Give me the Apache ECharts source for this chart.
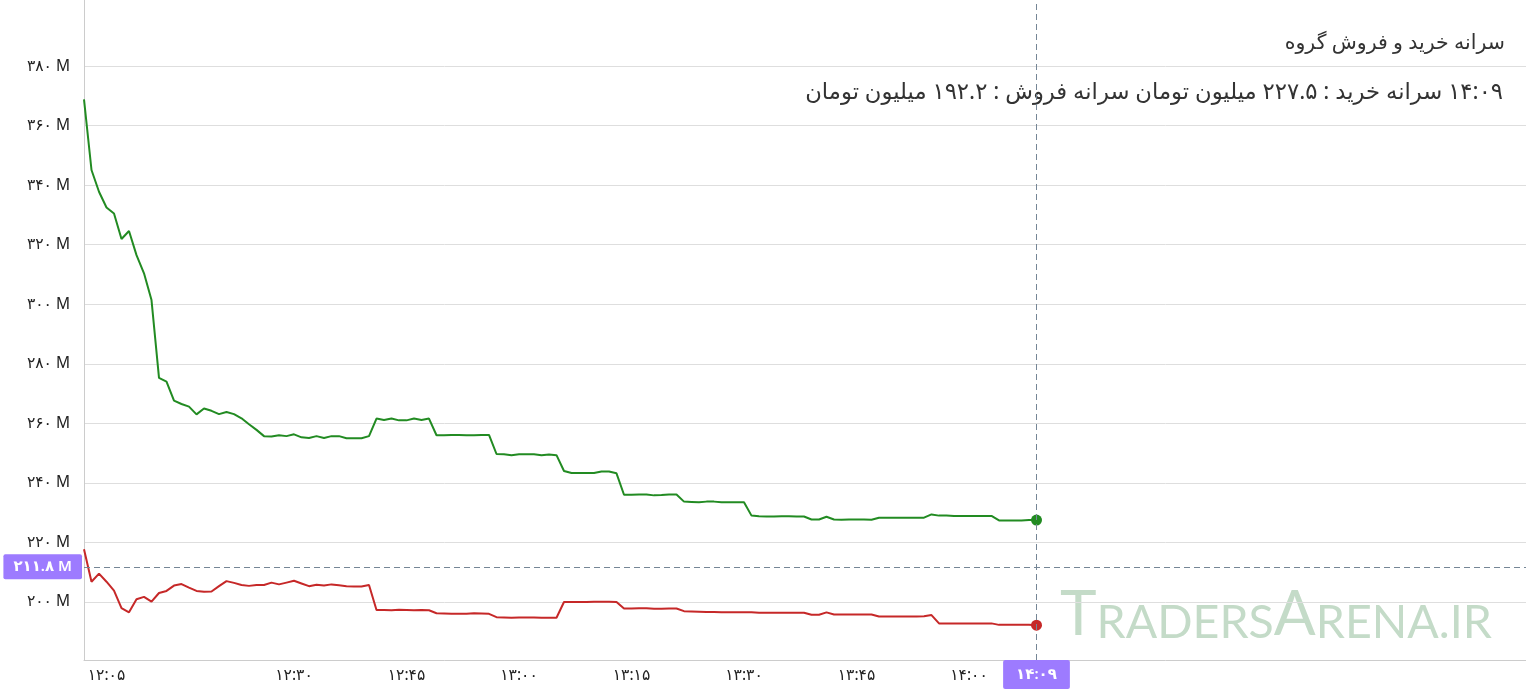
<!DOCTYPE html>
<html><head><meta charset="utf-8">
<script src="https://cdn.jsdelivr.net/npm/echarts@6/dist/echarts.min.js"></script>
<style>html,body{margin:0;padding:0;background:#fff}#c{width:1526px;height:693px}</style>
</head><body><div id="c"></div><script>
// minutes after 12:00
const minutes = [2,3,4,5,6,7,8,9,10,11,12,13,14,15,16,17,18,19,20,21,22,23,24,25,26,27,28,29,30,31,32,33,34,35,36,37,38,39,40,41,42,43,44,45,46,47,48,49,50,51,52,53,54,55,56,57,58,59,60,61,62,63,64,65,66,67,68,69,70,71,72,73,74,75,76,77,78,79,80,81,82,83,84,85,86,87,88,89,90,91,92,93,94,95,96,97,98,99,100,101,102,103,104,105,106,107,108,109,110,111,112,113,114,115,116,117,118,119,120,121,122,123,124,125,126,127,128,129];
const buyPerCapita = [368.8,345.1,337.8,332.5,330.5,321.9,324.6,316.5,310.4,301.4,275.3,274.0,267.6,266.5,265.6,263.0,265.0,264.2,263.1,263.8,263.1,261.7,259.7,257.8,255.7,255.6,256.0,255.7,256.3,255.3,255.1,255.7,255.1,255.7,255.7,255.0,255.0,255.0,255.7,261.6,261.1,261.6,261.0,261.0,261.6,261.1,261.6,256.0,256.0,256.1,256.1,256.0,256.0,256.1,256.1,249.7,249.6,249.3,249.6,249.6,249.6,249.3,249.5,249.3,244.0,243.3,243.3,243.3,243.3,243.8,243.8,243.2,236.0,236.0,236.1,236.1,235.8,235.9,236.1,236.1,233.7,233.6,233.5,233.7,233.7,233.5,233.5,233.5,233.5,229.0,228.8,228.7,228.7,228.8,228.8,228.7,228.7,227.7,227.7,228.6,227.7,227.6,227.7,227.7,227.7,227.6,228.3,228.3,228.3,228.3,228.3,228.3,228.3,229.4,229.0,229.0,228.9,228.9,228.9,228.9,228.9,228.9,227.4,227.4,227.4,227.4,227.5,227.5];
const sellPerCapita = [217.7,206.8,209.5,206.8,203.8,197.9,196.5,200.9,201.7,200.1,203.0,203.7,205.5,206.0,204.8,203.7,203.4,203.5,205.3,207.0,206.4,205.7,205.4,205.7,205.7,206.5,205.9,206.5,207.1,206.2,205.3,205.8,205.5,205.9,205.6,205.3,205.2,205.2,205.7,197.3,197.3,197.2,197.4,197.3,197.2,197.3,197.2,196.2,196.1,196.0,196.0,196.0,196.2,196.1,196.0,194.9,194.8,194.7,194.8,194.8,194.8,194.7,194.7,194.7,200.0,200.0,200.0,200.0,200.1,200.1,200.1,200.0,197.8,197.8,197.9,197.9,197.7,197.7,197.8,197.8,196.9,196.8,196.7,196.6,196.6,196.5,196.5,196.5,196.5,196.5,196.4,196.4,196.4,196.4,196.4,196.4,196.4,195.7,195.7,196.5,195.8,195.8,195.8,195.8,195.8,195.8,195.1,195.1,195.1,195.1,195.1,195.1,195.2,195.6,192.8,192.8,192.8,192.8,192.8,192.8,192.8,192.8,192.3,192.3,192.3,192.3,192.3,192.2];
const yTicks = [200,220,240,260,280,300,320,340,360,380];
const xTicks = [5,30,45,60,75,90,105,120];
const cursorMinute = 129;
const cursorValue = 211.8;
const titleText = 'سرانه خرید و فروش گروه';
const infoText = '۱۴:۰۹ سرانه خرید : ۲۲۷.۵ میلیون تومان سرانه فروش : ۱۹۲.۲ میلیون تومان';

const FONT = '"Noto Sans", "DejaVu Sans", sans-serif';
const fa = s => String(s).replace(/\d/g, d => '۰۱۲۳۴۵۶۷۸۹'[d]);
const rtl = s => '\u202B' + s + '\u202C';
const timeLabel = m => { m = Math.round(m); const h = 12 + Math.floor(m / 60), mm = m % 60; return fa(h + ':' + (mm < 10 ? '0' : '') + mm); };
const lastI = minutes.length - 1;

const chart = echarts.init(document.getElementById('c'), null, {renderer: 'canvas'});
chart.setOption({
  animation: false,
  backgroundColor: '#fff',
  textStyle: {fontFamily: FONT},
  axisPointer: {triggerOn: 'none'},
  title: [
    {text: rtl(titleText), right: 16, top: 28, textStyle: {fontSize: 20.5, fontWeight: 'normal', color: '#333', fontFamily: FONT}},
    {text: rtl(infoText), right: 18, top: 76, textStyle: {fontSize: 22.7, fontWeight: 'normal', color: '#333', fontFamily: FONT}}
  ],
  grid: {left: 84, right: 0, top: 0, bottom: 33},
  xAxis: {
    type: 'value', min: 2, max: 2 + 1442 / 7.5,
    axisLine: {show: true, lineStyle: {color: '#cccccc'}},
    axisTick: {show: false, customValues: xTicks},
    splitLine: {show: false},
    axisLabel: {customValues: xTicks, formatter: v => timeLabel(v), color: '#222', fontSize: 15.5, margin: 8, fontFamily: FONT},
    axisPointer: {
      show: true, status: 'show', value: cursorMinute, triggerTooltip: false, type: 'line',
      lineStyle: {color: '#758696', type: [6, 4], width: 1},
      label: {show: true, formatter: p => timeLabel(p.value), backgroundColor: '#9d7bff', color: '#fff', fontSize: 15, fontWeight: 600, padding: [7, 13, 7, 13], margin: 0, borderRadius: 2, fontFamily: FONT}
    }
  },
  yAxis: {
    type: 'value', min: 180.5, max: 402.2,
    axisLine: {show: true, lineStyle: {color: '#cccccc'}},
    axisTick: {show: false, customValues: yTicks},
    splitLine: {show: true, lineStyle: {color: '#dedede', width: 1}},
    axisLabel: {customValues: yTicks, formatter: v => fa(v) + ' M', color: '#222', fontSize: 15.5, margin: 14, fontFamily: FONT},
    axisPointer: {
      show: true, status: 'show', value: cursorValue, triggerTooltip: false, type: 'line',
      lineStyle: {color: '#758696', type: [6, 4], width: 1},
      label: {show: true, formatter: p => fa(Number(p.value).toFixed(1)) + ' M', backgroundColor: '#9d7bff', color: '#fff', fontSize: 15, fontWeight: 600, padding: [5, 10, 5, 10], margin: 2, borderRadius: 2, fontFamily: FONT}
    }
  },
  series: [
    {type: 'line', name: 'buy', data: minutes.map((m, i) => [m, buyPerCapita[i]]), showSymbol: false, symbol: 'none',
     lineStyle: {color: '#228b22', width: 2}, itemStyle: {color: '#228b22'}, z: 3},
    {type: 'line', name: 'sell', data: minutes.map((m, i) => [m, sellPerCapita[i]]), showSymbol: false, symbol: 'none',
     lineStyle: {color: '#c62828', width: 2}, itemStyle: {color: '#c62828'}, z: 3},
    {type: 'scatter', data: [[minutes[lastI], buyPerCapita[lastI]]], symbolSize: 11, itemStyle: {color: '#228b22', opacity: 1}, z: 4},
    {type: 'scatter', data: [[minutes[lastI], sellPerCapita[lastI]]], symbolSize: 11, itemStyle: {color: '#c62828', opacity: 1}, z: 4}
  ],
  graphic: [{
    type: 'text', left: 1060, top: 584, z: 0, silent: true,
    style: {
      text: '{a|T}{b|RADERS}{a|A}{b|RENA.IR}',
      fill: '#c4dbc8',
      rich: {
        a: {fontFamily: 'Lato, sans-serif', fontSize: 62, lineHeight: 60, fill: '#c4dbc8', verticalAlign: 'bottom'},
        b: {fontFamily: 'Lato, sans-serif', fontSize: 46.5, lineHeight: 60, fill: '#c4dbc8', verticalAlign: 'bottom'}
      }
    }
  }]
});
</script></body></html>
